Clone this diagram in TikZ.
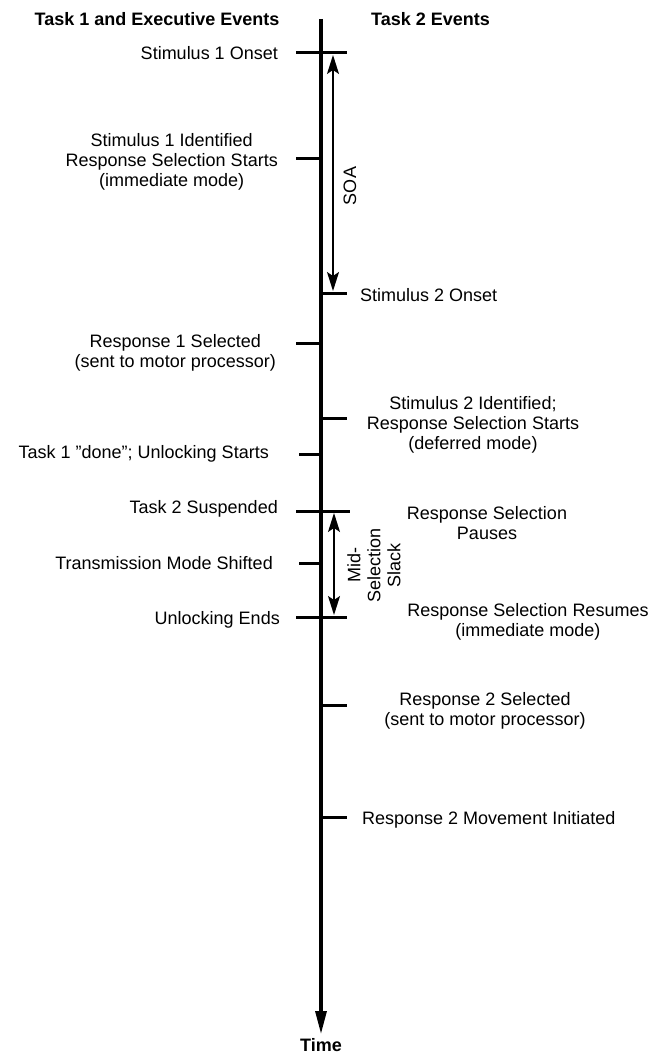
\documentclass[tikz,border=0pt]{standalone}
\usepackage{fontspec}
\setmainfont{Liberation Sans}[Ligatures=ResetAll]
\usetikzlibrary{arrows.meta,positioning}
\newcommand{\evfont}{\fontsize{18}{20}\selectfont}
\newcommand{\hdfont}{\fontsize{18}{20}\selectfont\bfseries}
\tikzset{
  tline/.style={line width=3.2pt,-{Triangle[length=23pt,width=11pt]}},
  tck/.style={line width=3pt},
  span/.style={line width=1.6pt,{Stealth[length=19pt,width=12pt,inset=4pt]}-{Stealth[length=19pt,width=12pt,inset=4pt]}},
  lbl/.style={font=\evfont,align=center,inner sep=0pt},
  hdr/.style={font=\hdfont,inner sep=0pt},
}

\begin{document}
\begin{tikzpicture}[x=1pt,y=-1pt]
  \useasboundingbox (0,0) rectangle (648,1054);
  % time line
  \coordinate (top) at (321,19);
  \coordinate (end) at (321,1034);
  \draw[tline] (top) -- (end);
  \node[hdr,below=4pt of end] (time) {Time};
  \node[hdr] (hd1) at (157,19) {Task 1 and Executive Events};
  \node[hdr,anchor=west] (hd2) at (371,19) {Task 2 Events};
  % event points on the line
  \coordinate (s1on) at (321,53);
  \coordinate (s1id) at (321,158);
  \coordinate (s2on) at (321,293);
  \coordinate (r1sel) at (321,343);
  \coordinate (s2id) at (321,418);
  \coordinate (done) at (321,454);
  \coordinate (susp) at (321,511);
  \coordinate (shift) at (321,563);
  \coordinate (unl) at (321,617);
  \coordinate (r2sel) at (321,705);
  \coordinate (r2mov) at (321,817);
  % ticks
  \draw[tck] (s1on) -- +(-25,0) (s1on) -- +(26,0);
  \draw[tck] (s1id) -- +(-25,0);
  \draw[tck] (s2on) -- +(26,0);
  \draw[tck] (r1sel) -- +(-25,0);
  \draw[tck] (s2id) -- +(26,0);
  \draw[tck] (done) -- +(-22,0);
  \draw[tck] (susp) -- +(-25,0) (susp) -- +(29,0);
  \draw[tck] (shift) -- +(-22,0);
  \draw[tck] (unl) -- +(-25,0) (unl) -- +(26,0);
  \draw[tck] (r2sel) -- +(26,0);
  \draw[tck] (r2mov) -- +(26,0);
  % task 1 and executive events
  \node[lbl,anchor=east] (l1) at (278,53) {Stimulus 1 Onset};
  \node[lbl,anchor=east] (l2) at (278,162) {Stimulus 1 Identified\\Response Selection Starts\\(immediate mode)};
  \node[lbl,anchor=east] (l3) at (276,353) {Response 1 Selected\\(sent to motor processor)};
  \node[lbl,anchor=east] (l4) at (269,454) {Task 1 "done"; Unlocking Starts};
  \node[lbl,anchor=east] (l5) at (278,509) {Task 2 Suspended};
  \node[lbl,anchor=east] (l6) at (273,563) {Transmission Mode Shifted};
  \node[lbl,anchor=east] (l7) at (280,620) {Unlocking Ends};
  % task 2 events
  \node[lbl,anchor=west] (r1) at (360,295) {Stimulus 2 Onset};
  \node[lbl] (r2) at (473,425) {Stimulus 2 Identified;\\Response Selection Starts\\(deferred mode)};
  \node[lbl] (r3) at (487,523) {Response Selection\\Pauses};
  \node[lbl] (r4) at (528,622) {Response Selection Resumes\\(immediate mode)};
  \node[lbl] (r5) at (485,711) {Response 2 Selected\\(sent to motor processor)};
  \node[lbl,anchor=west] (r6) at (362,820) {Response 2 Movement Initiated};
  % intervals
  \coordinate (soaA) at (333,55);
  \coordinate (soaB) at (333,291);
  \draw[span] (soaA) -- (soaB);
  \node[lbl,rotate=90] (soa) at (350,186) {SOA};
  \coordinate (mssA) at (334,513);
  \coordinate (mssB) at (334,615);
  \draw[span] (mssA) -- (mssB);
  \node[lbl,rotate=90] (mss) at (374,565) {Mid-\\Selection\\Slack};
\end{tikzpicture}
\end{document}
